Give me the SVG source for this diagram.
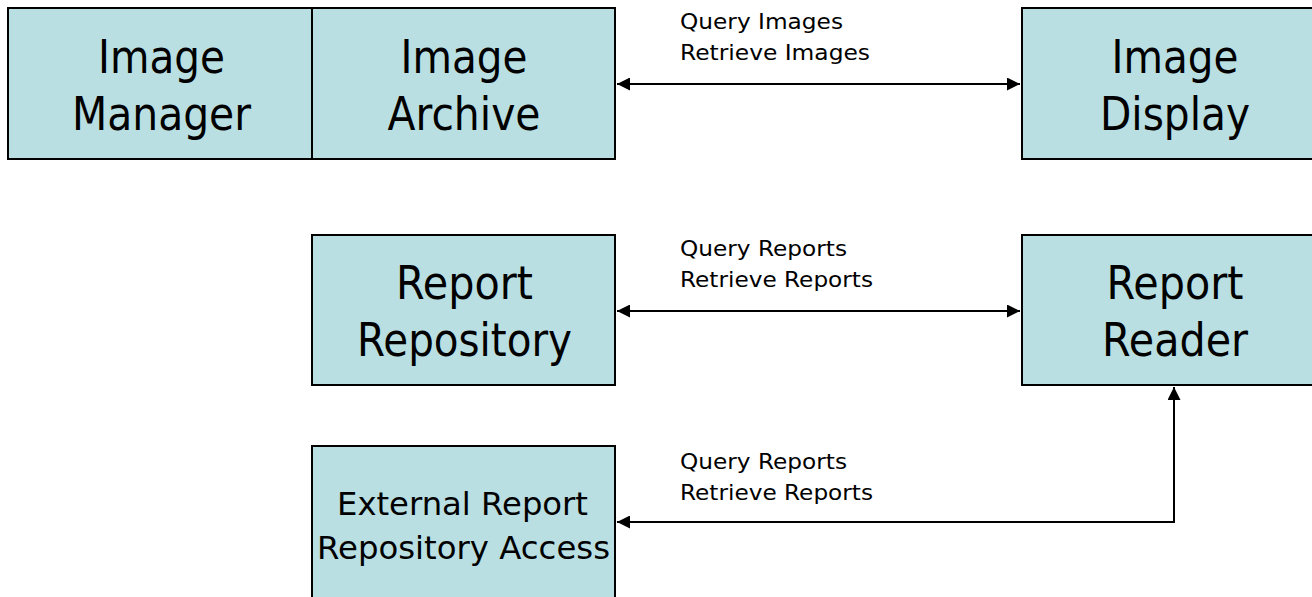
<svg xmlns="http://www.w3.org/2000/svg" width="1312" height="597" viewBox="0 0 1312 597">
<style>
.box{fill:#B9DFE2;stroke:#000;stroke-width:2}
.big{font-family:"DejaVu Sans",Tahoma,sans-serif;font-size:47px;fill:#000;text-anchor:middle}
.mid{font-family:"DejaVu Sans",Tahoma,sans-serif;font-size:32px;fill:#000;text-anchor:middle}
.lbl{font-family:"DejaVu Sans",Tahoma,sans-serif;font-size:22px;fill:#000}
.con{fill:none;stroke:#000;stroke-width:2}
</style>
<defs>
<marker id="ah" viewBox="0 0 10 10" refX="10" refY="5" markerWidth="8" markerHeight="6.5" markerUnits="strokeWidth" orient="auto-start-reverse">
<path d="M0,0 L10,5 L0,10 Z" fill="#000"/>
</marker>
</defs>
<rect width="1312" height="597" fill="#fff"/>
<g id="image-manager">
<rect class="box" x="8" y="8" width="304" height="151"/>
<text class="big" x="161.5" y="73" textLength="127" lengthAdjust="spacingAndGlyphs">Image</text>
<text class="big" x="161.5" y="130" textLength="179" lengthAdjust="spacingAndGlyphs">Manager</text>
</g>
<g id="image-archive">
<rect class="box" x="312" y="8" width="303" height="151"/>
<text class="big" x="464" y="73" textLength="127" lengthAdjust="spacingAndGlyphs">Image</text>
<text class="big" x="464" y="130" textLength="153" lengthAdjust="spacingAndGlyphs">Archive</text>
</g>
<g id="image-display">
<rect class="box" x="1022" y="8" width="306" height="151"/>
<text class="big" x="1175" y="73" textLength="127" lengthAdjust="spacingAndGlyphs">Image</text>
<text class="big" x="1175" y="130" textLength="150" lengthAdjust="spacingAndGlyphs">Display</text>
</g>
<g id="report-repository">
<rect class="box" x="312" y="235" width="303" height="150"/>
<text class="big" x="464.5" y="299" textLength="137" lengthAdjust="spacingAndGlyphs">Report</text>
<text class="big" x="464.5" y="356" textLength="215" lengthAdjust="spacingAndGlyphs">Repository</text>
</g>
<g id="report-reader">
<rect class="box" x="1022" y="235" width="306" height="150"/>
<text class="big" x="1175" y="299" textLength="137" lengthAdjust="spacingAndGlyphs">Report</text>
<text class="big" x="1175" y="356" textLength="146" lengthAdjust="spacingAndGlyphs">Reader</text>
</g>
<g id="external-report-repository-access">
<rect class="box" x="312" y="446" width="303" height="160"/>
<text class="mid" x="462.5" y="515" textLength="251" lengthAdjust="spacingAndGlyphs">External Report</text>
<text class="mid" x="463.5" y="559" textLength="293" lengthAdjust="spacingAndGlyphs">Repository Access</text>
</g>
<g id="connectors">
<path class="con" d="M617,84 H1020" marker-start="url(#ah)" marker-end="url(#ah)"/>
<path class="con" d="M617,311 H1020" marker-start="url(#ah)" marker-end="url(#ah)"/>
<path class="con" d="M1174,387 V522 H617" marker-start="url(#ah)" marker-end="url(#ah)"/>
<text class="lbl" x="680" y="29" textLength="163" lengthAdjust="spacingAndGlyphs">Query Images</text>
<text class="lbl" x="680" y="60" textLength="190" lengthAdjust="spacingAndGlyphs">Retrieve Images</text>
<text class="lbl" x="680" y="256" textLength="167" lengthAdjust="spacingAndGlyphs">Query Reports</text>
<text class="lbl" x="680" y="287" textLength="193" lengthAdjust="spacingAndGlyphs">Retrieve Reports</text>
<text class="lbl" x="680" y="469" textLength="167" lengthAdjust="spacingAndGlyphs">Query Reports</text>
<text class="lbl" x="680" y="500" textLength="193" lengthAdjust="spacingAndGlyphs">Retrieve Reports</text>
</g>
</svg>
